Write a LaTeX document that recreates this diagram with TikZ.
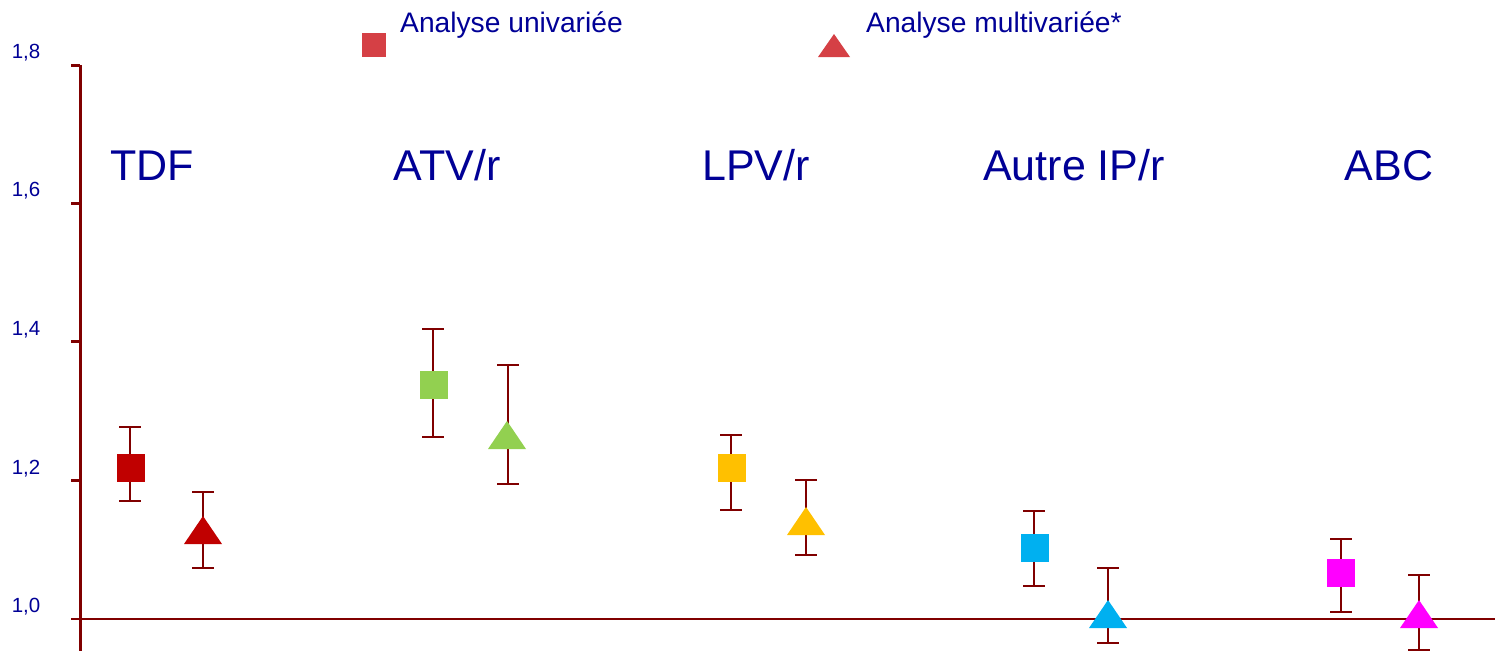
\documentclass[tikz,border=0pt]{standalone}
\usepackage{fontspec}
\setmainfont{Liberation Sans}
\definecolor{txtblue}{RGB}{0,0,150}
\definecolor{axred}{RGB}{128,0,0}
\definecolor{legred}{RGB}{213,64,69}
\definecolor{cTDF}{RGB}{192,0,0}
\definecolor{cATV}{RGB}{146,208,80}
\definecolor{cLPV}{RGB}{255,192,0}
\definecolor{cAIP}{RGB}{0,176,240}
\definecolor{cABC}{RGB}{255,0,255}
\newcommand{\ebar}[4]{% name, x, top, bottom
  \coordinate (#1t) at (#2,#3);
  \coordinate (#1b) at (#2,#4);
  \draw[errline] (#1t) -- (#1b);
  \draw[errline] ([xshift=-11pt]#1t) -- ([xshift=11pt]#1t);
  \draw[errline] ([xshift=-11pt]#1b) -- ([xshift=11pt]#1b);}
\newcommand{\sqmark}[4]{% name, x, y, colour
  \node[sqbox, fill=#4] (#1) at (#2,#3) {};}
\newcommand{\trimark}[4]{% name, x, base y, colour
  \coordinate (#1) at (#2,#3);
  \fill[#4] ([xshift=-19pt]#1) -- ([xshift=19pt]#1) -- ([yshift=28pt]#1) -- cycle;}
\begin{document}
\begin{tikzpicture}[x=1pt,y=-1pt,
  axisline/.style={draw=axred, line width=3pt},
  baseline line/.style={draw=axred, line width=2.5pt},
  errline/.style={draw=axred, line width=2.6pt},
  sqbox/.style={rectangle, minimum size=28pt, inner sep=0pt, draw=none},
  cat/.style={anchor=base, inner sep=0pt, text=txtblue, font=\fontsize{43}{50}\selectfont},
  leg/.style={anchor=base west, inner sep=0pt, text=txtblue, font=\fontsize{28.2}{33}\selectfont},
  tick/.style={anchor=base, inner sep=0pt, text=txtblue, font=\fontsize{20.5}{24}\selectfont}]
\useasboundingbox (0,0) rectangle (1495,651);

% axes
\coordinate (ytop) at (80,65);
\coordinate (ybot) at (80,651);
\coordinate (hl) at (71,619);
\coordinate (hr) at (1495,619);
\draw[axisline] (ytop) -- (ybot);
\draw[baseline line] (hl) -- (hr);
\foreach \yy in {65,203,341.5,480} \draw[axisline] (71,\yy) -- (80,\yy);

% tick labels
\node[tick] (l18) at (26,58) {1,8};
\node[tick] (l16) at (26,196) {1,6};
\node[tick] (l14) at (26,335) {1,4};
\node[tick] (l12) at (26,474) {1,2};
\node[tick] (l10) at (26,612) {1,0};

% legend
\node[sqbox, fill=legred, minimum size=24pt] (legsq) at (374,44.5) {};
\node[leg] (legt1) at (400,32) {Analyse univariée};
\coordinate (legtri) at (834,57);
\fill[legred] ([xshift=-16pt]legtri) -- ([xshift=16pt]legtri) -- ([yshift=23pt]legtri) -- cycle;
\node[leg] (legt2) at (866,32) {Analyse multivariée*};

% category labels
\node[cat] (cTDF) at (152,180) {TDF};
\node[cat] (cATV) at (447,180) {ATV/r};
\node[cat] (cLPV) at (756,180) {LPV/r};
\node[cat] (cAIP) at (1074,180) {Autre IP/r};
\node[cat] (cABC) at (1389,180) {ABC};

% TDF
\ebar{e1}{130}{427}{501}
\sqmark{s1}{131}{468}{cTDF}
\ebar{e2}{203}{492}{568}
\trimark{t1}{203}{544}{cTDF}
% ATV/r
\ebar{e3}{433}{329}{437}
\sqmark{s2}{434}{385}{cATV}
\ebar{e4}{508}{365}{484}
\trimark{t2}{507}{449}{cATV}
% LPV/r
\ebar{e5}{731}{435}{510}
\sqmark{s3}{732}{468}{cLPV}
\ebar{e6}{806}{480}{555}
\trimark{t3}{806}{535}{cLPV}
% Autre IP/r
\ebar{e7}{1034}{511}{586}
\sqmark{s4}{1035}{548}{cAIP}
\ebar{e8}{1108}{568}{643}
\trimark{t4}{1108}{628}{cAIP}
% ABC
\ebar{e9}{1341}{539}{612}
\sqmark{s5}{1341}{573}{cABC}
\ebar{e10}{1419}{575}{650}
\trimark{t5}{1419}{628}{cABC}
\end{tikzpicture}
\end{document}
